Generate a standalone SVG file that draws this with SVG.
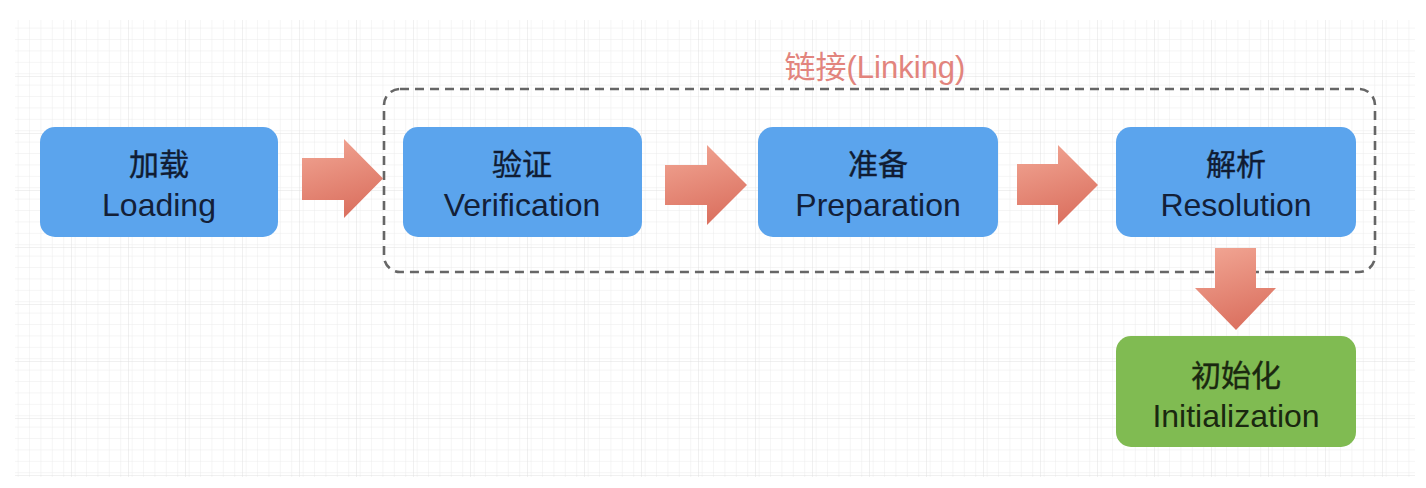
<svg xmlns="http://www.w3.org/2000/svg" width="1426" height="488" viewBox="0 0 1426 488">
  <defs>
    <pattern id="minor" x="15" y="20" width="11.4" height="11.4" patternUnits="userSpaceOnUse">
      <path d="M11.4 0V11.4H0" fill="none" stroke="#ececec" stroke-width="1"/>
    </pattern>
    <pattern id="major" x="15" y="20" width="57" height="57" patternUnits="userSpaceOnUse">
      <rect width="57" height="57" fill="url(#minor)"/>
      <path d="M57 0V57H0" fill="none" stroke="#e0e0e0" stroke-width="1"/>
    </pattern>
    <linearGradient id="arrowFill" x1="0" y1="0" x2="0.3" y2="1">
      <stop offset="0" stop-color="#f2a795"/>
      <stop offset="1" stop-color="#dc7362"/>
    </linearGradient>
    <style>
      .box { fill: #5ba4ed; }
      .green { fill: #80bb52; }
      .arrow { fill: url(#arrowFill); }
      .cn { font-family: "Noto Sans CJK SC", "Noto Sans", sans-serif; font-size: 30px; fill: #101c33; stroke: #101c33; stroke-width: 0.4; text-anchor: middle; }
      .en { font-family: "Liberation Sans", Arial, sans-serif; font-size: 32px; fill: #132038; text-anchor: middle; }
      .cn-g { fill: #1a2810; stroke: #1a2810; }
      .en-g { fill: #1a2810; }
      .group-label { font-family: "Liberation Sans", "Noto Sans CJK SC", sans-serif; font-size: 31px; fill: #e2847d; text-anchor: middle; }
      .dash { fill: none; stroke: #666666; stroke-width: 2.6; stroke-dasharray: 9 6; }
    </style>
  </defs>

  <!-- canvas -->
  <rect width="1426" height="488" fill="#ffffff"/>
  <rect x="15" y="20" width="1400" height="457" fill="url(#major)"/>

  <!-- linking phase frame -->
  <g id="linking">
    <rect class="dash" x="384" y="89" width="991" height="183" rx="16"/>
    <text class="group-label" x="875" y="78">链接(Linking)</text>
  </g>

  <g id="connectors">
    <path class="arrow" d="M302 158H344V139L383 178.5L344 218V200H302Z"/>
    <path class="arrow" d="M665 165H707V145L747 185L707 225V205H665Z"/>
    <path class="arrow" d="M1017 164H1058V145L1098 185L1058 225V205H1017Z"/>
    <path class="arrow" d="M1215 248H1256V288H1276L1236 330L1195 288H1215Z"/>
  </g>

  <g id="loading">
    <rect class="box" x="40" y="127" width="238" height="110" rx="15"/>
    <text class="cn" x="159" y="175">加载</text>
    <text class="en" x="159" y="216">Loading</text>
  </g>

  <g id="verification">
    <rect class="box" x="403" y="127" width="239" height="110" rx="15"/>
    <text class="cn" x="522" y="175">验证</text>
    <text class="en" x="522" y="216">Verification</text>
  </g>

  <g id="preparation">
    <rect class="box" x="758" y="127" width="240" height="110" rx="15"/>
    <text class="cn" x="878" y="175">准备</text>
    <text class="en" x="878" y="216">Preparation</text>
  </g>

  <g id="resolution">
    <rect class="box" x="1116" y="127" width="240" height="110" rx="15"/>
    <text class="cn" x="1236" y="175">解析</text>
    <text class="en" x="1236" y="216">Resolution</text>
  </g>

  <g id="initialization">
    <rect class="green" x="1116" y="336" width="240" height="111" rx="15"/>
    <text class="cn cn-g" x="1236" y="386">初始化</text>
    <text class="en en-g" x="1236" y="427">Initialization</text>
  </g>
</svg>
